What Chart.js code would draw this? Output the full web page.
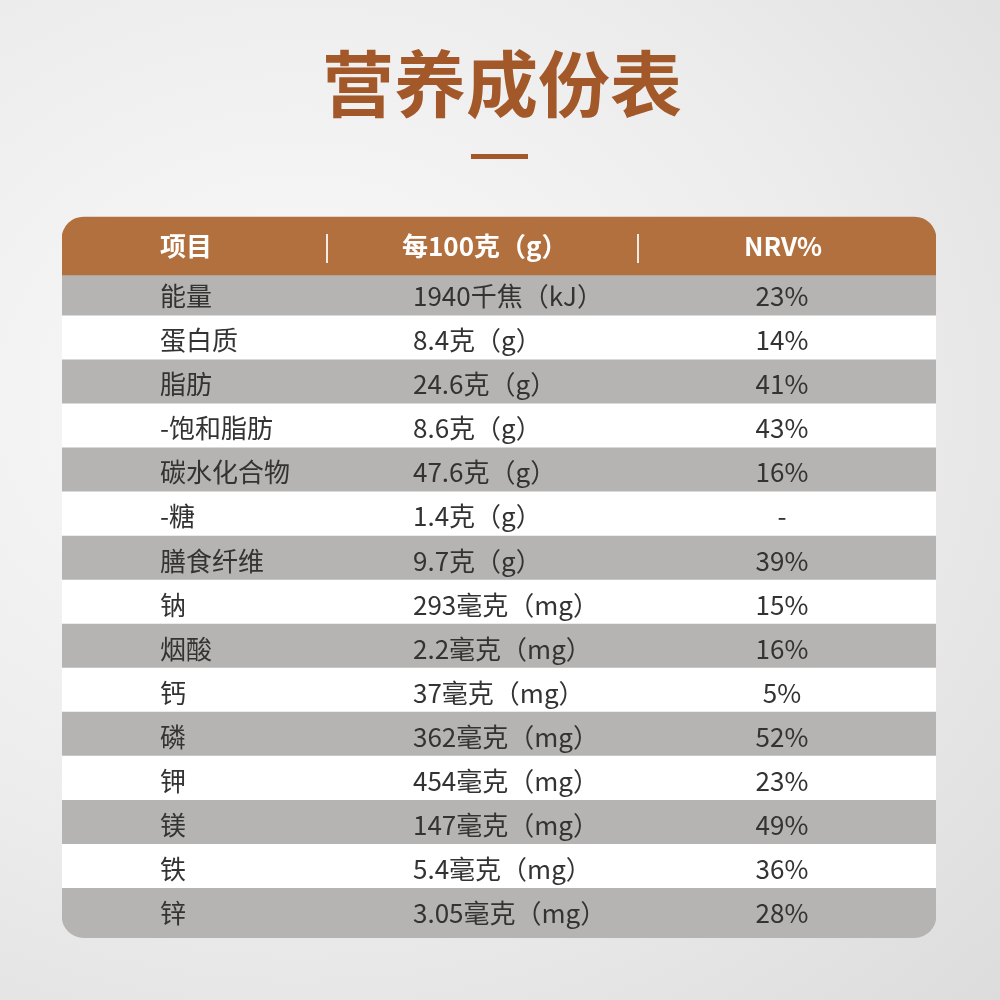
<!DOCTYPE html>
<html><head><meta charset="utf-8">
<script src="https://cdn.jsdelivr.net/npm/chart.js@4"></script>
<style>
html,body{margin:0;padding:0;width:1000px;height:1000px;overflow:hidden;
background:radial-gradient(ellipse at 30% 40%,#fafafa 0%,#ececec 55%,#dcdcdc 100%);}
canvas{display:block}
</style></head><body>
<canvas id="c" width="1000" height="1000"></canvas>
<script>
const title = "营养成份表";
const headers = ["项目", "每100克（g）", "NRV%"];
const items = ["能量","蛋白质","脂肪","-饱和脂肪","碳水化合物","-糖","膳食纤维","钠","烟酸","钙","磷","钾","镁","铁","锌"];
const amounts = ["1940千焦（kJ）","8.4克（g）","24.6克（g）","8.6克（g）","47.6克（g）","1.4克（g）","9.7克（g）","293毫克（mg）","2.2毫克（mg）","37毫克（mg）","362毫克（mg）","454毫克（mg）","147毫克（mg）","5.4毫克（mg）","3.05毫克（mg）"];
const nrv = ["23%","14%","41%","43%","16%","-","39%","15%","16%","5%","52%","23%","49%","36%","28%"];

const HEADER_POS = -0.145;
const n = items.length;
const FONT = '"Noto Sans CJK SC","Noto Sans",sans-serif';

const textPlugin = {
  id: 'tableText',
  beforeDraw(chart) {
    const ctx = chart.ctx;
    ctx.save();
    ctx.fillStyle = '#a3582a';
    ctx.font = 'bold 72px ' + FONT;
    ctx.textAlign = 'center';
    ctx.textBaseline = 'middle';
    ctx.fillText(title, 502, 84);
    ctx.fillRect(471, 154, 57, 5);
    ctx.restore();
  },
  afterDatasetsDraw(chart) {
    const ctx = chart.ctx;
    const y = chart.scales.y;
    ctx.save();
    ctx.textBaseline = 'middle';
    let yy = y.getPixelForValue(HEADER_POS);
    ctx.fillStyle = '#ffffff';
    ctx.font = 'bold 26px ' + FONT;
    ctx.textAlign = 'left';
    ctx.fillText(headers[0], 160, yy);
    ctx.fillText(headers[1], 402, yy);
    ctx.textAlign = 'center';
    ctx.fillText(headers[2], 783, yy);
    ctx.font = '26px ' + FONT;
    ctx.fillText('|', 327, yy);
    ctx.fillText('|', 638, yy);
    ctx.fillStyle = '#333333';
    ctx.font = '26px ' + FONT;
    for (let i = 0; i < n; i++) {
      yy = y.getPixelForValue(i + 1);
      ctx.textAlign = 'left';
      ctx.fillText(items[i], 160, yy);
      ctx.fillText(amounts[i], 413, yy);
      ctx.textAlign = 'center';
      ctx.fillText(nrv[i], 782, yy);
    }
    ctx.restore();
  }
};

new Chart(document.getElementById('c'), {
  type: 'bar',
  data: {
    datasets: [{
      data: [{x: [0, 1], y: HEADER_POS}],
      backgroundColor: '#b2703f',
      borderRadius: {topLeft: 22, topRight: 22, bottomLeft: 0, bottomRight: 0},
      borderSkipped: false,
      barThickness: 58,
      grouped: false
    }, {
      data: items.map((_, i) => ({x: [0, 1], y: i + 1})),
      backgroundColor: items.map((_, i) => i % 2 === 0 ? '#b5b4b2' : '#ffffff'),
      borderRadius: (c) => c.dataIndex === n - 1 ? {topLeft: 0, topRight: 0, bottomLeft: 22, bottomRight: 22} : 0,
      borderSkipped: false,
      barThickness: 49.4,
      grouped: false
    }]
  },
  options: {
    indexAxis: 'y',
    responsive: false,
    animation: false,
    layout: {padding: {left: 62, right: 64, top: 180, bottom: 22}},
    plugins: {legend: {display: false}, tooltip: {enabled: false}},
    scales: {
      x: {type: 'linear', display: false, min: 0, max: 1},
      y: {type: 'linear', display: false, reverse: true, min: -0.737, max: 15.57}
    }
  },
  plugins: [textPlugin]
});
</script>
</body></html>
